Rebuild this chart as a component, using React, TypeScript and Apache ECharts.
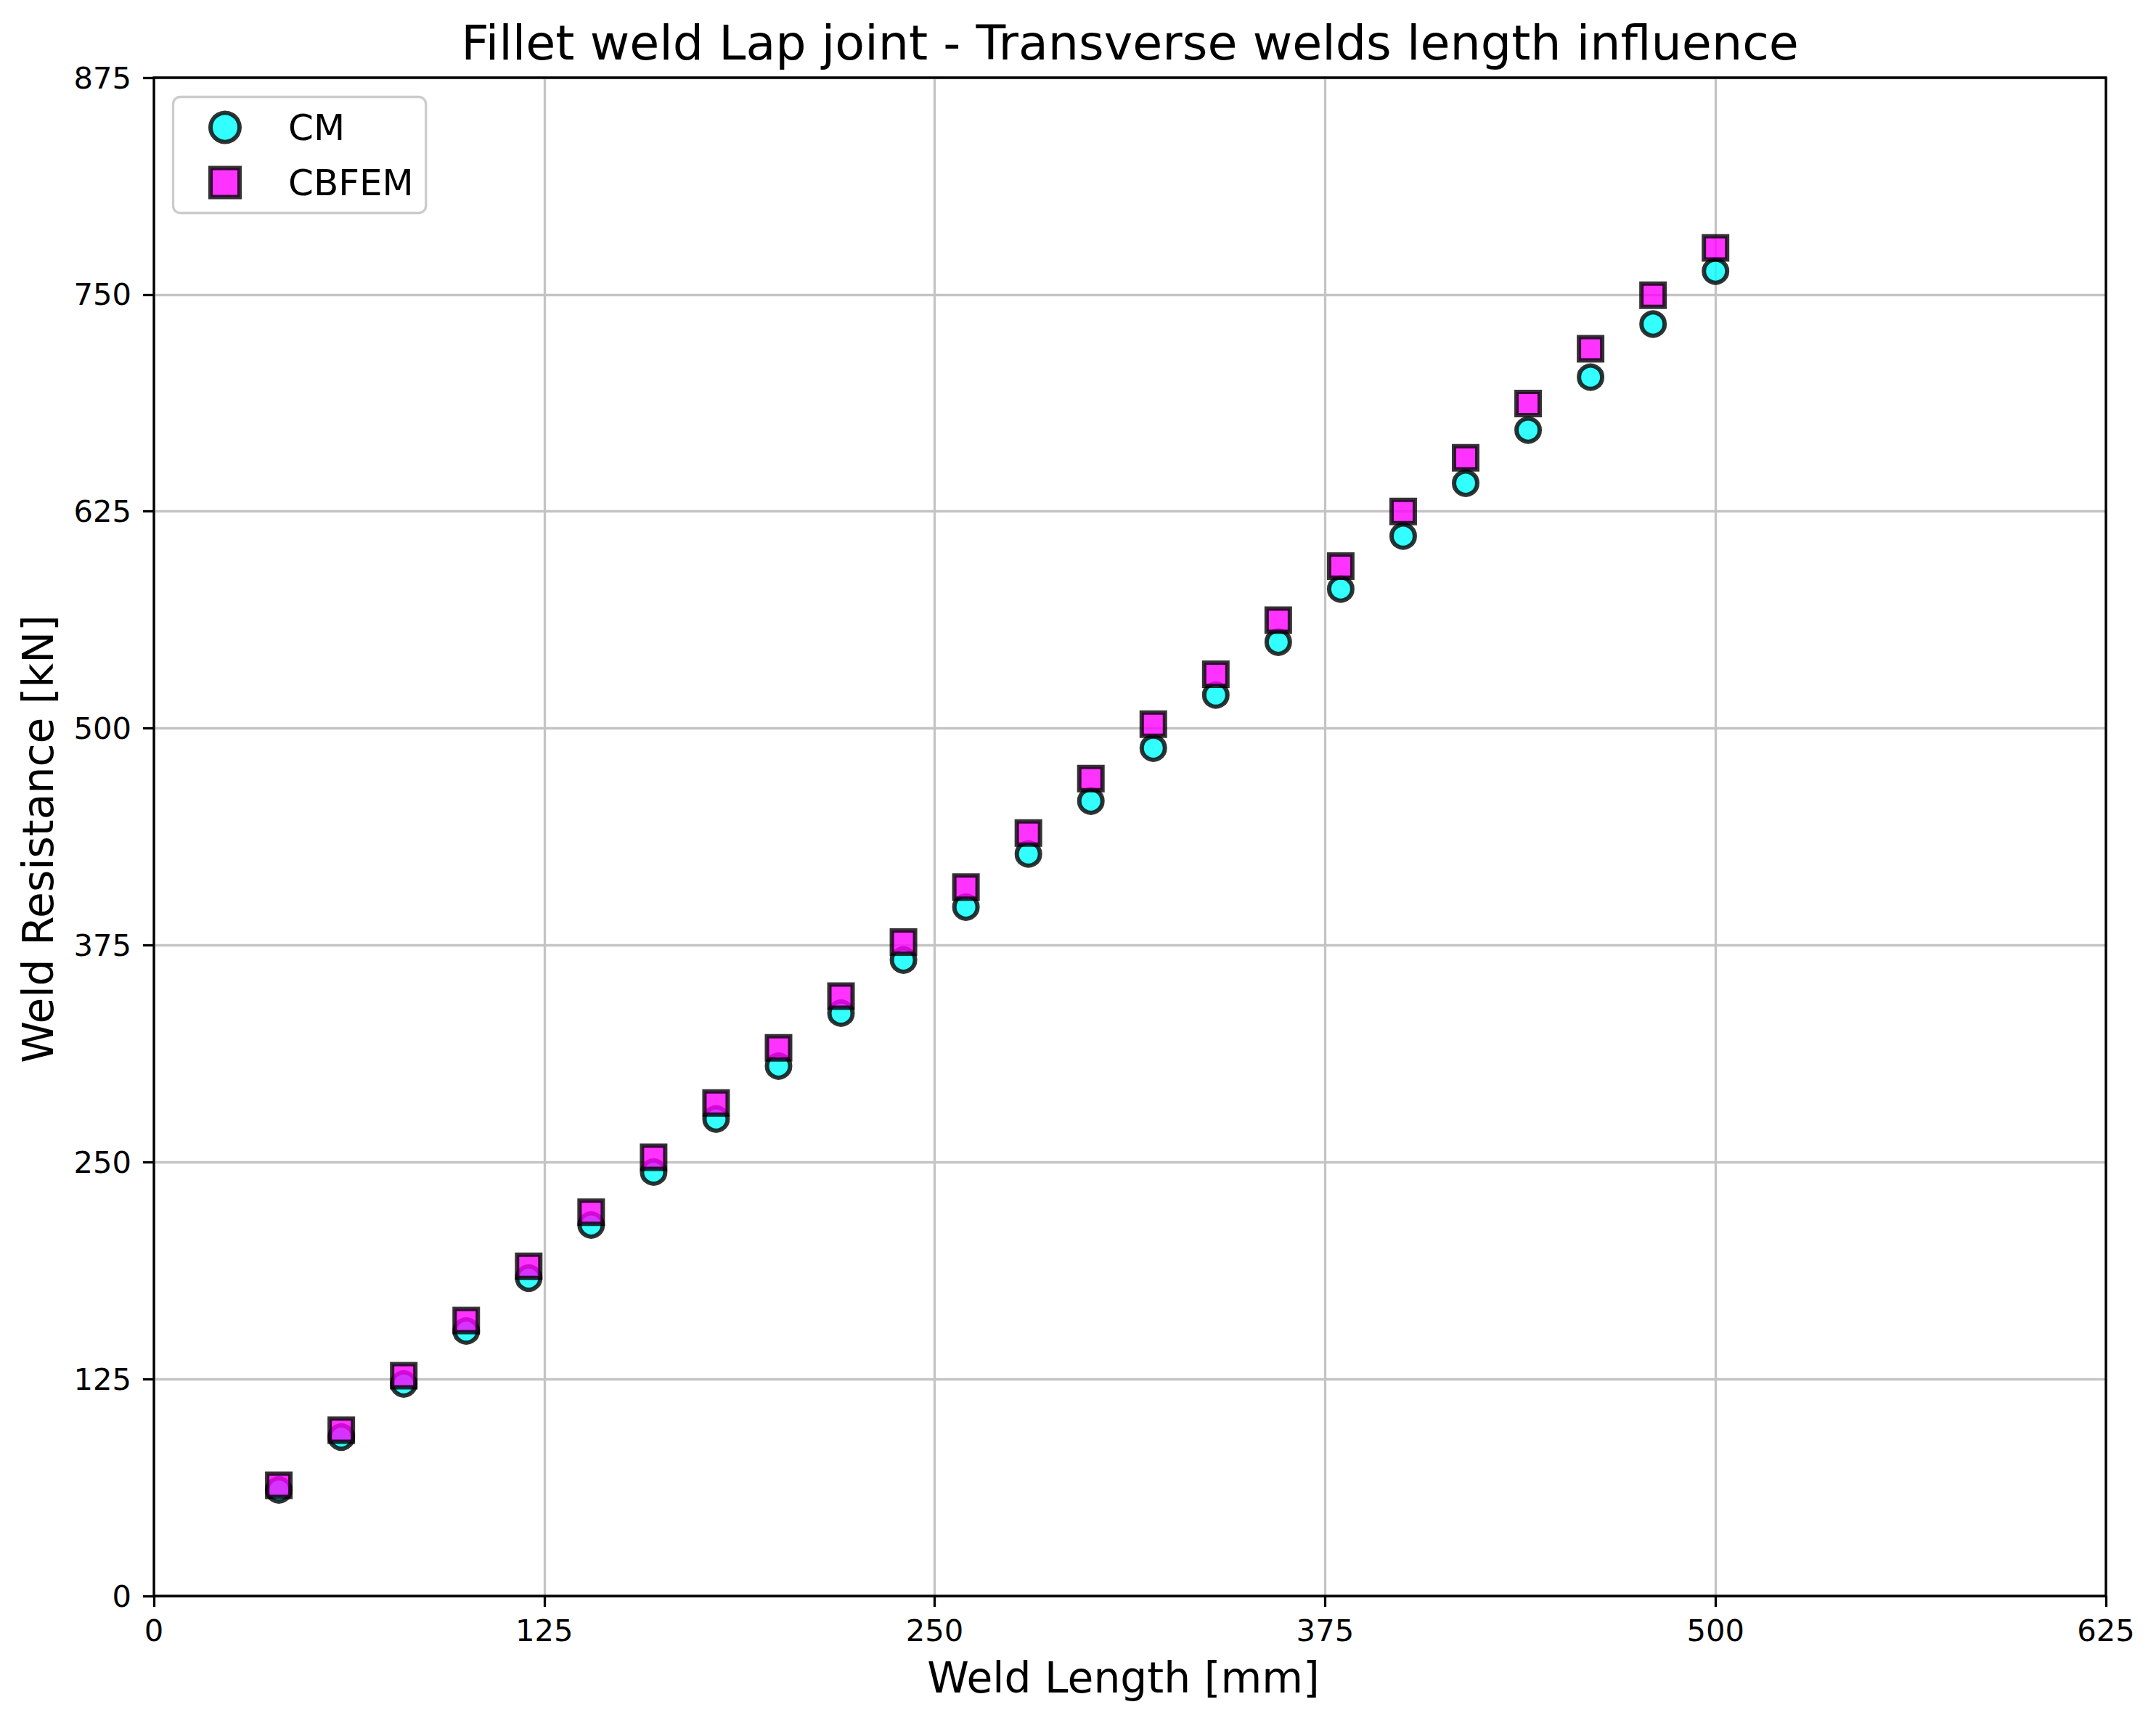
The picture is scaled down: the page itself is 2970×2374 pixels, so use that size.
import React, { useEffect, useRef } from "react";
import * as echarts from "echarts";

const weldLength = [40, 60, 80, 100, 120, 140, 160, 180, 200, 220, 240, 260, 280, 300, 320, 340, 360, 380, 400, 420, 440, 460, 480, 500];
const cmValues = [61.1, 91.6, 122.2, 152.7, 183.2, 213.8, 244.3, 274.9, 305.4, 335.9, 366.5, 397.0, 427.6, 458.1, 488.6, 519.2, 549.7, 580.3, 610.8, 641.3, 671.9, 702.4, 733.0, 763.5];
const cbfemValues = [63.8, 95.6, 126.9, 158.7, 190.0, 221.2, 252.8, 284.1, 315.9, 345.7, 376.9, 408.5, 439.7, 471.1, 502.4, 531.2, 562.3, 593.5, 625.0, 655.9, 687.2, 718.8, 749.6, 776.9];
const xTicks = [0, 125, 250, 375, 500, 625];
const yTicks = [0, 125, 250, 375, 500, 625, 750, 875];
const titleText = "Fillet weld Lap joint - Transverse welds length influence";
const xLabel = "Weld Length [mm]";
const yLabel = "Weld Resistance [kN]";

const W = 2970;
const H = 2374;
const PL = 212;
const PT = 107;
const PW = 2689;
const PH = 2092;
const FONT = '"DejaVu Sans", sans-serif';

export default function App() {
  const ref = useRef<HTMLDivElement>(null);
  useEffect(() => {
    document.body.style.margin = "0";
    const chart = echarts.init(ref.current!, null, { renderer: "svg" });
    const pts = (ys: number[]) => weldLength.map((x, i) => [x, ys[i]]);
    const axisCommon = {
      type: "value" as const,
      axisLine: { show: false },
      axisTick: { show: true, inside: false, length: 15, lineStyle: { color: "#000", width: 3.3 } },
      splitLine: { show: true, lineStyle: { color: "#c4c4c4", width: 3.3 } },
    };
    chart.setOption({
      animation: false,
      backgroundColor: "#ffffff",
      grid: { left: PL, top: PT, width: PW, height: PH, show: false, containLabel: false },
      xAxis: {
        ...axisCommon,
        min: xTicks[0],
        max: xTicks[xTicks.length - 1],
        interval: xTicks[1] - xTicks[0],
        axisLabel: { show: true, margin: 27, fontSize: 41.7, lineHeight: 41.7, fontFamily: FONT, color: "#000", showMinLabel: true, showMaxLabel: true },
      },
      yAxis: {
        ...axisCommon,
        min: yTicks[0],
        max: yTicks[yTicks.length - 1],
        interval: yTicks[1] - yTicks[0],
        axisLabel: { show: true, margin: 31, fontSize: 41.7, lineHeight: 41.7, fontFamily: FONT, color: "#000", showMinLabel: true, showMaxLabel: true },
      },
      legend: {
        show: true,
        orient: "vertical",
        left: 238.5,
        top: 133.5,
        padding: [17, 17, 17, 48.5],
        itemWidth: 40,
        itemHeight: 40,
        itemGap: 26,
        backgroundColor: "rgba(255,255,255,0.8)",
        borderColor: "#cccccc",
        borderWidth: 3.3,
        borderRadius: 10,
        selectedMode: false,
        itemStyle: { borderWidth: 6, borderColor: "#000000", opacity: 0.8 },
        textStyle: { fontSize: 50, fontFamily: FONT, color: "#000", lineHeight: 32, padding: [0, 0, 10, 62] },
        data: ["CM", "CBFEM"],
      },
      graphic: [
        { type: "rect", silent: true, z: 50, shape: { x: PL, y: PT, width: PW, height: PH }, style: { fill: "none", stroke: "#000", lineWidth: 3.3 } },
        { type: "text", x: PL + PW / 2, y: 58.6, silent: true, style: { text: titleText, font: `66.7px ${FONT}`, fill: "#000", align: "center", verticalAlign: "middle" } },
        { type: "text", x: PL + PW / 2 - 9, y: 2311.5, silent: true, style: { text: xLabel, font: `58.3px ${FONT}`, fill: "#000", align: "center", verticalAlign: "middle" } },
        { type: "text", x: 53.3, y: PT + PH / 2 + 3, rotation: Math.PI / 2, silent: true, style: { text: yLabel, font: `58.3px ${FONT}`, fill: "#000", align: "center", verticalAlign: "middle" } },
      ],
      series: [
        {
          name: "CM",
          type: "scatter",
          data: pts(cmValues),
          symbol: "circle",
          symbolSize: 32,
          silent: true,
          itemStyle: { color: "#00ffff", borderColor: "#000000", borderWidth: 6, opacity: 0.8 },
          emphasis: { disabled: true },
        },
        {
          name: "CBFEM",
          type: "scatter",
          data: pts(cbfemValues),
          symbol: "rect",
          symbolSize: 32,
          silent: true,
          itemStyle: { color: "#ff00ff", borderColor: "#000000", borderWidth: 6, opacity: 0.8 },
          emphasis: { disabled: true },
        },
      ],
    });
    return () => chart.dispose();
  }, []);
  return <div ref={ref} style={{ width: W, height: H }} />;
}
